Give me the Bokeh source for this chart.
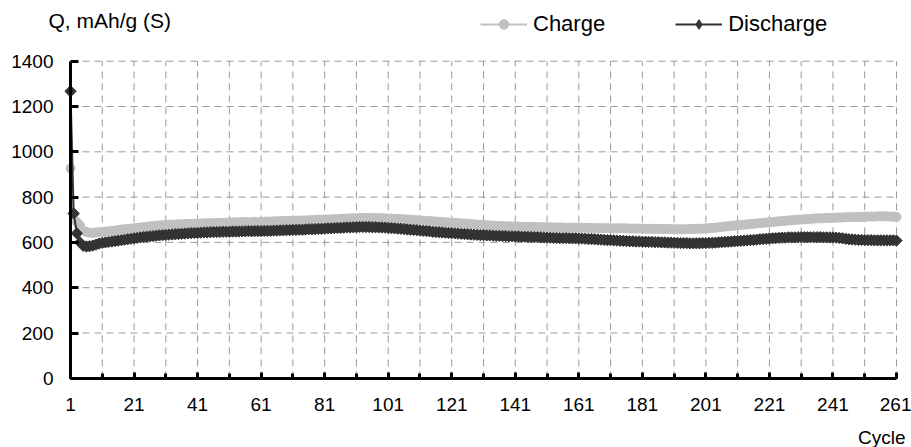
import math
from bokeh.plotting import figure
from bokeh.models import (FixedTicker, Range1d, Legend, LegendItem, Label,
                          LinearAxis, ColumnDataSource)
from bokeh.embed import file_html
from bokeh.resources import INLINE

charge = [
    927, 722, 690, 675, 652, 646, 643, 642, 644, 645,
    646, 648, 649, 651, 652, 655, 657, 658, 660, 661,
    663, 664, 666, 667, 669, 671, 672, 673, 675, 676,
    677, 678, 678, 679, 680, 680, 681, 681, 682, 682,
    683, 683, 684, 684, 685, 685, 686, 686, 687, 687,
    688, 688, 689, 689, 690, 690, 689, 690, 691, 690,
    691, 691, 692, 692, 693, 693, 694, 694, 695, 695,
    695, 696, 696, 697, 697, 698, 698, 699, 700, 700,
    701, 701, 702, 703, 703, 704, 705, 705, 706, 707,
    707, 708, 708, 708, 709, 708, 708, 707, 707, 706,
    705, 705, 704, 703, 703, 702, 701, 700, 699, 698,
    697, 696, 695, 694, 693, 692, 691, 690, 689, 688,
    687, 686, 685, 684, 683, 682, 681, 680, 679, 678,
    677, 676, 675, 674, 673, 672, 672, 671, 671, 670,
    670, 670, 669, 669, 669, 668, 668, 668, 667, 667,
    667, 667, 666, 666, 666, 666, 665, 665, 665, 665,
    665, 665, 664, 664, 664, 664, 663, 663, 663, 663,
    663, 662, 662, 662, 662, 662, 661, 661, 661, 661,
    661, 660, 660, 660, 660, 659, 659, 659, 659, 659,
    658, 658, 658, 658, 658, 659, 659, 660, 660, 661,
    662, 663, 664, 665, 667, 668, 670, 671, 673, 674,
    676, 677, 678, 680, 681, 682, 684, 685, 686, 688,
    689, 690, 692, 693, 694, 695, 697, 698, 699, 700,
    701, 702, 703, 704, 705, 706, 706, 707, 708, 708,
    709, 709, 710, 710, 711, 711, 712, 712, 712, 713,
    713, 714, 714, 714, 715, 715, 715, 715, 714, 714,
    712,
]

discharge = [
    1267, 728, 640, 600, 585, 582, 583, 586, 590, 595,
    598, 600, 602, 604, 606, 608, 610, 612, 614, 616,
    618, 620, 622, 624, 625, 627, 628, 630, 631, 632,
    633, 634, 635, 636, 637, 638, 639, 640, 641, 642,
    642, 643, 644, 644, 645, 645, 646, 646, 647, 647,
    647, 648, 648, 648, 649, 649, 650, 649, 650, 650,
    650, 651, 651, 651, 652, 652, 653, 653, 654, 654,
    655, 655, 656, 656, 657, 658, 658, 659, 660, 660,
    661, 662, 662, 663, 664, 664, 665, 666, 666, 667,
    667, 668, 668, 668, 668, 667, 667, 666, 666, 665,
    664, 663, 662, 661, 660, 659, 657, 656, 655, 654,
    652, 651, 650, 649, 647, 646, 645, 644, 643, 642,
    641, 640, 639, 638, 637, 636, 635, 634, 633, 632,
    632, 631, 631, 630, 629, 629, 628, 628, 627, 627,
    626, 626, 625, 625, 624, 624, 623, 623, 622, 622,
    621, 621, 620, 620, 619, 619, 619, 618, 618, 618,
    617, 617, 616, 615, 615, 614, 613, 612, 611, 610,
    610, 609, 608, 607, 607, 606, 605, 605, 604, 604,
    603, 603, 602, 602, 601, 601, 600, 600, 599, 599,
    598, 598, 597, 597, 597, 596, 596, 596, 596, 597,
    597, 598, 598, 599, 600, 601, 602, 603, 604, 605,
    606, 607, 608, 609, 610, 611, 612, 614, 615, 616,
    617, 618, 619, 620, 621, 621, 622, 622, 622, 623,
    623, 623, 623, 623, 623, 623, 623, 622, 622, 622,
    622, 621, 620, 618, 616, 614, 613, 612, 611, 611,
    610, 610, 610, 609, 609, 609, 609, 609, 609, 609,
    608,
]

cycles = list(range(1, len(charge) + 1))
x_major = [1, 21, 41, 61, 81, 101, 121, 141, 161, 181, 201, 221, 241, 261]
x_minor = list(range(1, 262, 10))
y_ticks = [0, 200, 400, 600, 800, 1000, 1200, 1400]

FONT = "Liberation Sans"
GRID = "#9a9a9a"
C_CHARGE = "#c0c0c0"
C_DISCH = "#333333"

# canvas / frame geometry (pixels)
W, H = 911, 447
PX_LEFT, PX_RIGHT = 70.0, 896.0      # x pixel of first / last cycle
PX_TOP, PX_BOTTOM = 60.7, 377.8      # y pixel of 1400 / 0
X0, X1 = cycles[0], cycles[-1]
Y0, Y1 = y_ticks[0], y_ticks[-1]
sx = (PX_RIGHT - PX_LEFT) / (X1 - X0)
sy = (PX_BOTTOM - PX_TOP) / (Y1 - Y0)
x_range = Range1d(X0 - PX_LEFT / sx, X1 + (W - PX_RIGHT) / sx)
y_range = Range1d(Y0 - (H - PX_BOTTOM) / sy, Y1 + PX_TOP / sy)

src = ColumnDataSource(dict(x=cycles, c=charge, d=discharge))

p = figure(width=W, height=H, output_backend="svg", toolbar_location=None,
           x_range=x_range, y_range=y_range, title=None,
           x_axis_location=None, y_axis_location=None,
           min_border=0, min_border_left=0, min_border_right=0,
           min_border_top=0, min_border_bottom=0)
p.outline_line_color = None
p.background_fill_color = "white"
p.border_fill_color = "white"
p.xgrid.visible = False
p.ygrid.visible = False

# dashed grid lines (drawn from the tick lists)
vx = [t for t in x_minor if t != X0]
p.segment(x0=vx, y0=[Y0] * len(vx), x1=vx, y1=[Y1] * len(vx),
          line_color=GRID, line_width=1, line_dash="7 5")
hy = [t for t in y_ticks if t != Y0]
p.segment(x0=[X0] * len(hy), y0=hy, x1=[X1] * len(hy), y1=hy,
          line_color=GRID, line_width=1, line_dash="7 5")

# axes
xaxis = LinearAxis(fixed_location=Y0, bounds=(X0, X1),
                   ticker=FixedTicker(ticks=x_major, minor_ticks=x_minor))
yaxis = LinearAxis(fixed_location=X0, bounds=(Y0, Y1),
                   ticker=FixedTicker(ticks=y_ticks, minor_ticks=[]))
for ax in (xaxis, yaxis):
    ax.axis_line_width = 3
    ax.axis_line_color = "black"
    ax.major_tick_line_width = 3
    ax.minor_tick_line_width = 3
    ax.major_tick_line_color = "black"
    ax.minor_tick_line_color = "black"
    ax.major_tick_out = 0
    ax.minor_tick_out = 0
    ax.major_label_text_font = FONT
    ax.major_label_text_font_size = "19px"
    ax.major_label_text_color = "black"
xaxis.major_tick_in = 6
xaxis.minor_tick_in = 5
xaxis.major_label_standoff = 20
yaxis.major_tick_in = 8
yaxis.major_label_standoff = 17
p.add_layout(xaxis, "below")
p.add_layout(yaxis, "left")

# series
lc = p.line("x", "c", source=src, line_color=C_CHARGE, line_width=2)
mc = p.scatter("x", "c", source=src, marker="circle", size=9,
               fill_color=C_CHARGE, line_color=C_CHARGE)
ld = p.line("x", "d", source=src, line_color=C_DISCH, line_width=2)
md = p.scatter("x", "d", source=src, marker="square", size=8, angle=math.pi / 4,
               fill_color=C_DISCH, line_color=C_DISCH)

# legend-only marker for the discharge series (diamond shape, never on screen)
leg_src = ColumnDataSource(dict(x=[float("nan")], y=[float("nan")]))
md_leg = p.scatter("x", "y", source=leg_src, marker="diamond", size=13,
                   fill_color=C_DISCH, line_color=C_DISCH)

legend = Legend(items=[LegendItem(label="Charge", renderers=[lc, mc]),
                       LegendItem(label="Discharge", renderers=[ld, md_leg])],
                orientation="horizontal", location=(480, H - 37),
                glyph_width=47, glyph_height=24, label_standoff=6,
                spacing=70, padding=0, margin=0,
                border_line_color=None, background_fill_alpha=0,
                label_text_font=FONT, label_text_font_size="22px",
                label_text_color="black")
p.add_layout(legend, "center")

p.add_layout(Label(x=48, y=H - 20, x_units="screen", y_units="screen",
                   text="Q, mAh/g (S)", text_font=FONT, text_font_size="21px",
                   text_color="black", text_baseline="middle"))
p.add_layout(Label(x=905, y=H - 437, x_units="screen", y_units="screen",
                   text="Cycle", text_font=FONT,
                   text_font_size="19px", text_color="black",
                   text_align="right", text_baseline="middle"))

open("out.html", "w").write(file_html(p, INLINE))
